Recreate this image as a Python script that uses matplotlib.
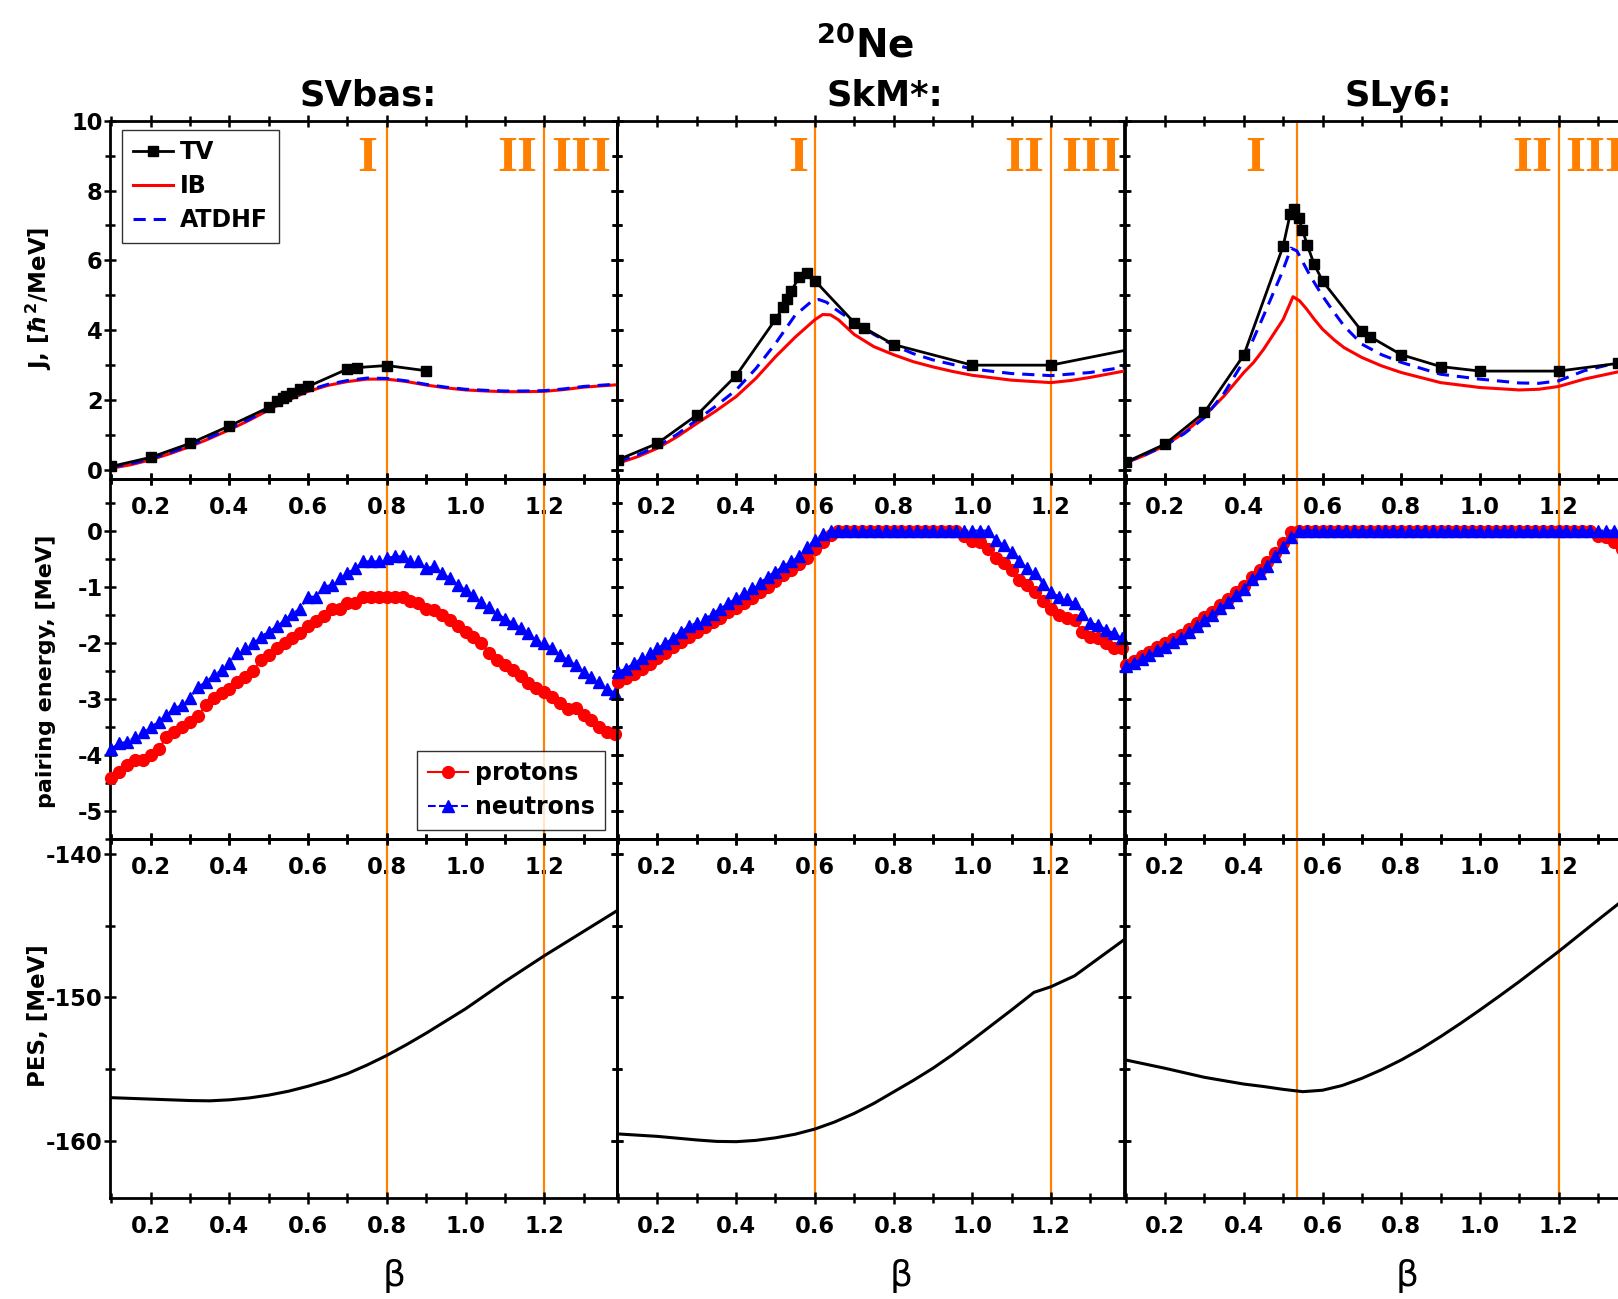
import numpy as np
import matplotlib
matplotlib.use('Agg')
import matplotlib.pyplot as plt
from matplotlib.ticker import MultipleLocator, FormatStrFormatter

plt.rcParams['font.family'] = 'DejaVu Sans'
plt.rcParams['font.weight'] = 'bold'
plt.rcParams['axes.unicode_minus'] = False
plt.rcParams['mathtext.fontset'] = 'dejavusans'

forces = ['SVbas:', 'SkM*:', 'SLy6:']
region_bounds = [[0.8, 1.2], [0.6, 1.2], [0.535, 1.2]]

# ---- moment of inertia J [hbar^2/MeV] ----
b_tv_sv = [0.1, 0.2, 0.3, 0.4, 0.5, 0.52, 0.535, 0.545, 0.56, 0.58, 0.6, 0.7, 0.725, 0.8, 0.9]
j_tv_sv = [0.10, 0.36, 0.76, 1.26, 1.79, 1.96, 2.05, 2.12, 2.20, 2.32, 2.39, 2.89, 2.93, 2.99, 2.84]
b_ib_sv = [0.1, 0.15, 0.2, 0.25, 0.3, 0.35, 0.4, 0.45, 0.5, 0.55, 0.6, 0.65, 0.7, 0.75, 0.8,
           0.85, 0.9, 0.95, 1.0, 1.05, 1.1, 1.15, 1.2, 1.25, 1.3, 1.4]
j_ib_sv = [0.05, 0.15, 0.29, 0.47, 0.67, 0.90, 1.15, 1.42, 1.72, 2.00, 2.25, 2.42, 2.53, 2.60, 2.60,
           2.53, 2.43, 2.35, 2.29, 2.26, 2.24, 2.24, 2.25, 2.30, 2.37, 2.45]
j_at_sv = [0.08, 0.18, 0.32, 0.50, 0.70, 0.93, 1.18, 1.45, 1.74, 2.02, 2.28, 2.45, 2.56, 2.63, 2.62,
           2.55, 2.45, 2.37, 2.31, 2.28, 2.26, 2.26, 2.27, 2.32, 2.39, 2.47]

b_tv_skm = [0.1, 0.2, 0.3, 0.4, 0.5, 0.52, 0.53, 0.54, 0.56, 0.58, 0.6, 0.7, 0.725, 0.8, 1.0, 1.2, 1.4]
j_tv_skm = [0.29, 0.76, 1.57, 2.70, 4.31, 4.67, 4.90, 5.12, 5.52, 5.65, 5.42, 4.22, 4.07, 3.59, 3.00, 3.00, 3.45]
b_ib_skm = [0.1, 0.15, 0.2, 0.25, 0.3, 0.35, 0.4, 0.45, 0.5, 0.55, 0.58, 0.6, 0.62, 0.64, 0.66,
            0.7, 0.75, 0.8, 0.85, 0.9, 0.95, 1.0, 1.1, 1.2, 1.25, 1.3, 1.4]
j_ib_skm = [0.19, 0.38, 0.62, 0.95, 1.33, 1.70, 2.10, 2.62, 3.24, 3.80, 4.10, 4.30, 4.45, 4.44, 4.30,
            3.88, 3.53, 3.30, 3.10, 2.95, 2.82, 2.71, 2.57, 2.50, 2.56, 2.65, 2.86]
b_at_skm = [0.1, 0.15, 0.2, 0.25, 0.3, 0.35, 0.4, 0.45, 0.5, 0.55, 0.59, 0.61, 0.63, 0.65, 0.7,
            0.75, 0.8, 0.85, 0.9, 1.0, 1.1, 1.2, 1.3, 1.4]
j_at_skm = [0.24, 0.43, 0.67, 1.02, 1.43, 1.84, 2.29, 2.90, 3.62, 4.43, 4.81, 4.88, 4.80, 4.62, 4.24,
            3.88, 3.57, 3.33, 3.15, 2.89, 2.76, 2.70, 2.79, 2.97]

b_tv_sly = [0.1, 0.2, 0.3, 0.4, 0.5, 0.518, 0.528, 0.539, 0.549, 0.561, 0.578, 0.6, 0.7, 0.72, 0.8, 0.9, 1.0, 1.2, 1.35]
j_tv_sly = [0.22, 0.74, 1.65, 3.29, 6.41, 7.34, 7.48, 7.22, 6.87, 6.45, 5.91, 5.41, 3.97, 3.82, 3.30, 2.96, 2.83, 2.83, 3.05]
b_ib_sly = [0.1, 0.15, 0.2, 0.25, 0.3, 0.35, 0.4, 0.425, 0.45, 0.5, 0.525, 0.542, 0.56, 0.58, 0.6,
            0.63, 0.655, 0.7, 0.75, 0.8, 0.9, 1.0, 1.1, 1.15, 1.2, 1.265, 1.36]
j_ib_sly = [0.20, 0.43, 0.70, 1.08, 1.55, 2.12, 2.79, 3.08, 3.45, 4.31, 4.96, 4.84, 4.60, 4.30, 4.03,
            3.72, 3.50, 3.22, 2.98, 2.79, 2.50, 2.36, 2.29, 2.31, 2.39, 2.60, 2.83]
b_at_sly = [0.1, 0.15, 0.2, 0.25, 0.3, 0.35, 0.4, 0.45, 0.497, 0.52, 0.535, 0.55, 0.569, 0.6, 0.63,
            0.655, 0.7, 0.75, 0.8, 0.9, 1.0, 1.1, 1.15, 1.2, 1.265, 1.36]
j_at_sly = [0.22, 0.44, 0.70, 1.05, 1.50, 2.20, 3.12, 4.41, 5.65, 6.35, 6.27, 5.95, 5.55, 4.98, 4.50,
            4.12, 3.60, 3.30, 3.08, 2.74, 2.60, 2.49, 2.48, 2.55, 2.84, 3.10]

# ---- pairing energy [MeV], beta = 0.10 ... 1.38 step 0.02 ----
pair_n_sv = [-3.89, -3.79, -3.77, -3.68, -3.59, -3.50, -3.41, -3.29, -3.17, -3.11,
             -2.99, -2.79, -2.70, -2.58, -2.49, -2.37, -2.19, -2.10, -2.01, -1.89,
             -1.80, -1.71, -1.60, -1.48, -1.39, -1.18, -1.18, -1.00, -0.97, -0.85,
             -0.76, -0.67, -0.55, -0.55, -0.55, -0.49, -0.46, -0.46, -0.55, -0.55,
             -0.67, -0.64, -0.76, -0.85, -0.97, -1.06, -1.15, -1.27, -1.36, -1.48,
             -1.57, -1.65, -1.74, -1.83, -1.95, -2.01, -2.10, -2.22, -2.31, -2.40,
             -2.52, -2.61, -2.70, -2.82, -2.90]
pair_p_sv = [-4.42, -4.30, -4.18, -4.10, -4.10, -4.00, -3.90, -3.68, -3.59, -3.50,
             -3.41, -3.31, -3.11, -2.99, -2.90, -2.82, -2.70, -2.61, -2.50, -2.31,
             -2.22, -2.10, -2.01, -1.92, -1.82, -1.71, -1.62, -1.52, -1.39, -1.39,
             -1.30, -1.30, -1.18, -1.18, -1.18, -1.18, -1.18, -1.18, -1.25, -1.30,
             -1.40, -1.42, -1.50, -1.60, -1.70, -1.80, -1.89, -2.00, -2.19, -2.31,
             -2.40, -2.49, -2.60, -2.71, -2.80, -2.88, -2.96, -3.08, -3.19, -3.17,
             -3.29, -3.38, -3.50, -3.59, -3.62]
pair_n_skm = [-2.52, -2.46, -2.37, -2.28, -2.19, -2.10, -2.01, -1.92, -1.80, -1.71,
              -1.64, -1.57, -1.48, -1.39, -1.30, -1.21, -1.12, -1.03, -0.94, -0.82,
              -0.73, -0.64, -0.55, -0.46, -0.29, -0.17, -0.06,
              0, 0, 0, 0, 0, 0, 0, 0, 0, 0, 0, 0, 0, 0, 0, 0, 0, 0, 0, 0, 0,
              -0.17, -0.26, -0.38, -0.55, -0.67, -0.76, -0.95, -1.09, -1.18, -1.22,
              -1.30, -1.48, -1.65, -1.68, -1.77, -1.83, -1.92]
pair_p_skm = [-2.70, -2.62, -2.55, -2.47, -2.38, -2.28, -2.18, -2.08, -1.98, -1.90,
              -1.80, -1.72, -1.63, -1.55, -1.46, -1.38, -1.29, -1.20, -1.10, -1.00,
              -0.90, -0.80, -0.70, -0.60, -0.48, -0.32, -0.20, -0.08,
              0, 0, 0, 0, 0, 0, 0, 0, 0, 0, 0, 0, 0, 0, 0, 0,
              -0.10, -0.18, -0.20, -0.32, -0.49, -0.58, -0.70, -0.88, -0.97, -1.09,
              -1.25, -1.39, -1.51, -1.55, -1.60, -1.80, -1.89, -1.92, -2.01, -2.10, -2.10]
pair_n_sly = [-2.42, -2.36, -2.29, -2.21, -2.13, -2.07, -1.98, -1.92, -1.81, -1.70,
              -1.59, -1.50, -1.38, -1.27, -1.15, -1.04, -0.87, -0.76, -0.63, -0.46,
              -0.30, -0.12] + [0] * 43
pair_p_sly = [-2.40, -2.32, -2.24, -2.16, -2.08, -2.01, -1.93, -1.86, -1.76, -1.65,
              -1.54, -1.45, -1.33, -1.22, -1.10, -0.98, -0.82, -0.70, -0.56, -0.40,
              -0.22, -0.02] + [0] * 38 + [-0.10, -0.12, -0.20, -0.32, -0.45]

# ---- potential energy surface [MeV] ----
b_pes_sv = [0.1, 0.2, 0.3, 0.35, 0.4, 0.45, 0.5, 0.55, 0.6, 0.65, 0.7, 0.75, 0.8, 0.85, 0.9,
            0.95, 1.0, 1.05, 1.1, 1.15, 1.2, 1.25, 1.3, 1.35, 1.4]
pes_sv = [-157.0, -157.1, -157.2, -157.22, -157.15, -157.02, -156.82, -156.55, -156.2, -155.8,
          -155.32, -154.72, -154.05, -153.3, -152.5, -151.65, -150.8, -149.85, -148.9, -148.0,
          -147.1, -146.25, -145.4, -144.55, -143.7]
b_pes_skm = [0.1, 0.2, 0.3, 0.35, 0.4, 0.45, 0.5, 0.55, 0.6, 0.65, 0.7, 0.75, 0.8, 0.85, 0.9,
             0.95, 1.0, 1.05, 1.1, 1.157, 1.2, 1.26, 1.32, 1.4]
pes_skm = [-159.53, -159.7, -159.95, -160.05, -160.07, -159.98, -159.8, -159.55, -159.19, -158.7,
           -158.1, -157.4, -156.6, -155.8, -154.95, -154.0, -152.98, -151.93, -150.88, -149.65,
           -149.26, -148.5, -147.3, -145.7]
b_pes_sly = [0.1, 0.2, 0.3, 0.4, 0.45, 0.5, 0.55, 0.6, 0.65, 0.7, 0.75, 0.8, 0.85, 0.9, 0.95,
             1.0, 1.05, 1.1, 1.15, 1.2, 1.25, 1.3, 1.36, 1.4]
pes_sly = [-154.37, -154.95, -155.58, -156.05, -156.22, -156.42, -156.58, -156.48, -156.15, -155.65,
           -155.05, -154.37, -153.6, -152.74, -151.83, -150.88, -149.9, -148.9, -147.85, -146.8,
           -145.7, -144.6, -143.3, -142.4]

J_data = [(b_tv_sv, j_tv_sv, b_ib_sv, j_ib_sv, b_ib_sv, j_at_sv),
          (b_tv_skm, j_tv_skm, b_ib_skm, j_ib_skm, b_at_skm, j_at_skm),
          (b_tv_sly, j_tv_sly, b_ib_sly, j_ib_sly, b_at_sly, j_at_sly)]
pair_data = [(pair_p_sv, pair_n_sv), (pair_p_skm, pair_n_skm), (pair_p_sly, pair_n_sly)]
pes_data = [(b_pes_sv, pes_sv), (b_pes_skm, pes_skm), (b_pes_sly, pes_sly)]

ORANGE = '#ff8000'
W, H = 1618., 1299.
col_left = [110.4, 617.1, 1124.8]
col_w = 507.
row_edges = [120.7, 479., 839., 1198.]
ylims = [(-0.26, 10), (-5.5, 0.92), (-164.0, -138.95)]
ymaj = [2, 1, 10]
ymin = [1, 0.5, 5]
numeral_x = [[0.751, 1.132, 1.295], [0.557, 1.132, 1.302], [0.428, 1.132, 1.292]]

fig = plt.figure(figsize=(16.18, 12.99), dpi=100)


def add_ax(c, r):
    ax = fig.add_axes([col_left[c] / W, 1 - row_edges[r + 1] / H, col_w / W,
                       (row_edges[r + 1] - row_edges[r]) / H])
    ax.patch.set_visible(False)
    ax.set_xlim(0.0975, 1.386)
    ax.set_ylim(*ylims[r])
    ax.xaxis.set_major_locator(MultipleLocator(0.2))
    ax.xaxis.set_minor_locator(MultipleLocator(0.1))
    ax.xaxis.set_major_formatter(FormatStrFormatter('%.1f'))
    ax.yaxis.set_major_locator(MultipleLocator(ymaj[r]))
    ax.yaxis.set_minor_locator(MultipleLocator(ymin[r]))
    ax.yaxis.set_major_formatter(FormatStrFormatter('%d'))
    ax.tick_params(which='both', direction='inout', top=True, right=True, width=1.8,
                   labelsize=16.3)
    ax.tick_params(which='major', length=8)
    ax.tick_params(which='minor', length=7)
    ax.tick_params(axis='x', pad=8)
    ax.tick_params(axis='y', pad=1.5)
    if c > 0:
        ax.tick_params(axis='y', labelleft=False)
    for s in ax.spines.values():
        s.set_linewidth(2.0)
    for xv in region_bounds[c]:
        ax.axvline(xv, color=ORANGE, lw=1.6, zorder=1)
    return ax


beta_grid = np.round(0.10 + 0.02 * np.arange(65), 2)
leg_kw = dict(fontsize=17, frameon=True, fancybox=False, edgecolor='black',
              handlelength=1.7, handletextpad=0.3, borderpad=0.45, labelspacing=0.42,
              borderaxespad=0)

for c in range(3):
    # J panel
    ax = add_ax(c, 0)
    btv, jtv, bib, jib, bat, jat = J_data[c]
    ax.plot(bib, jib, color='red', lw=2.2, zorder=3, label='IB')
    ax.plot(bat, jat, color='blue', lw=2.2, ls=(0, (4.0, 2.6)), zorder=4, label='ATDHF')
    ax.plot(btv, jtv, color='black', lw=2.0, marker='s', ms=6.5, zorder=5, label='TV')
    for xt, txt in zip(numeral_x[c], ['I', 'II', 'III']):
        ax.text(xt, 8.55, txt, color=ORANGE, family='Liberation Serif', weight='bold',
                fontsize=37, ha='center', va='baseline', clip_on=False)
    if c == 0:
        h, l = ax.get_legend_handles_labels()
        order = [2, 0, 1]
        leg = ax.legend([h[i] for i in order], [l[i] for i in order], loc='upper left',
                        bbox_to_anchor=(0.023, 0.975), **leg_kw)
        leg.get_frame().set_linewidth(1.0)

    # pairing panel
    ax = add_ax(c, 1)
    pp, pn = pair_data[c]
    ax.plot(beta_grid, pp, color='red', lw=1.5, marker='o', ms=8.5, zorder=3,
            clip_on=False, label='protons')
    ax.plot(beta_grid, pn, color='blue', lw=1.5, ls='--', marker='^', ms=9, zorder=4,
            clip_on=False, label='neutrons')
    if c == 0:
        leg = ax.legend(loc='lower right', bbox_to_anchor=(0.976, 0.025), **leg_kw)
        leg.get_frame().set_linewidth(1.0)

    # PES panel
    ax = add_ax(c, 2)
    bp, ep = pes_data[c]
    ax.plot(bp, ep, color='black', lw=2.2, zorder=3)

# labels and titles
fig.text(865 / W, 1 - 46 / H, r'$^{\mathbf{20}}$Ne', fontsize=28, weight='bold',
         ha='center', va='center')
for xc, name in zip([368, 885, 1398], forces):
    fig.text(xc / W, 1 - 96 / H, name, fontsize=25.5, weight='bold', ha='center',
             va='center')
for xc in [394, 901, 1407]:
    fig.text(xc / W, 1 - 1276 / H, 'β', fontsize=26, weight='normal', ha='center',
             va='center')
fig.text(39 / W, 1 - 298 / H, r'J, [$\hbar^{\mathbf{2}}$/MeV]', fontsize=16.5, weight='bold',
         rotation=90, ha='center', va='center')
fig.text(46 / W, 1 - 671 / H, 'pairing energy, [MeV]', fontsize=16, weight='bold',
         rotation=90, ha='center', va='center')
fig.text(39 / W, 1 - 1016 / H, 'PES, [MeV]', fontsize=16.5, weight='bold',
         rotation=90, ha='center', va='center')

fig.savefig('out.png', dpi=100)
